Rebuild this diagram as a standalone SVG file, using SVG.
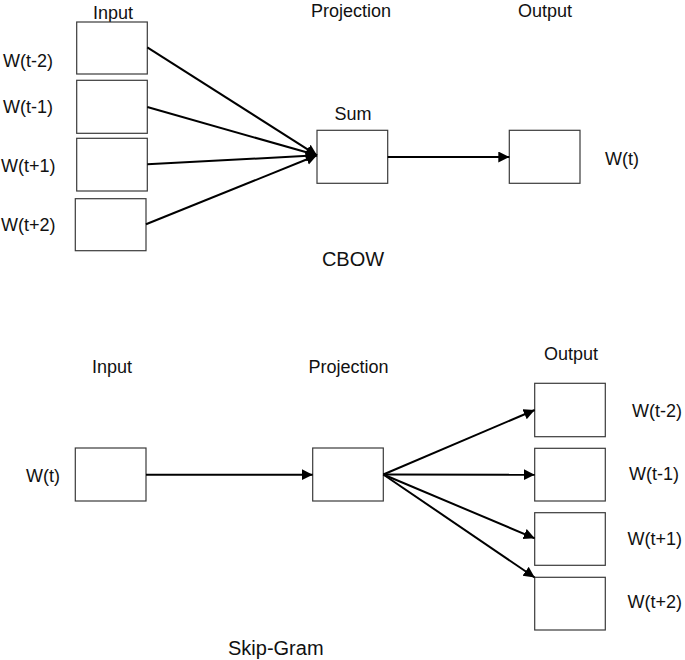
<svg xmlns="http://www.w3.org/2000/svg" width="685" height="660" viewBox="0 0 685 660">
<style>
.box{fill:#fff;stroke:#3a3a3a;stroke-width:1.2}
.lbl{font-family:"Liberation Sans",Arial,sans-serif;font-size:18px;fill:#111}
.ttl{font-family:"Liberation Sans",Arial,sans-serif;font-size:20px;fill:#111}
.mid{text-anchor:middle}
.conn line{stroke:#000;stroke-width:2;marker-end:url(#ah)}
</style>
<defs>
<marker id="ah" markerUnits="userSpaceOnUse" markerWidth="12" markerHeight="12" refX="11" refY="5.5" orient="auto">
<path d="M0,0 L11,5.5 L0,11 z" fill="#000"/>
</marker>
</defs>
<rect width="685" height="660" fill="#fff"/>

<!-- CBOW -->
<text class="lbl mid" x="113" y="19">Input</text>
<text class="lbl mid" x="351" y="17">Projection</text>
<text class="lbl mid" x="545" y="17">Output</text>
<text class="lbl mid" x="353" y="120">Sum</text>
<text class="ttl mid" x="353" y="266">CBOW</text>

<g id="cbow-in1"><rect class="box" x="76.7" y="22" width="70.6" height="52"/><text class="lbl" x="3" y="67">W(t-2)</text></g>
<g id="cbow-in2"><rect class="box" x="76.7" y="80.3" width="70.6" height="53"/><text class="lbl" x="3" y="113">W(t-1)</text></g>
<g id="cbow-in3"><rect class="box" x="76.7" y="138.3" width="70.6" height="52.7"/><text class="lbl" x="1" y="172">W(t+1)</text></g>
<g id="cbow-in4"><rect class="box" x="75.3" y="198.7" width="70.7" height="52"/><text class="lbl" x="1" y="231">W(t+2)</text></g>
<g id="cbow-sum"><rect class="box" x="317" y="130.3" width="70.7" height="53"/></g>
<g id="cbow-out"><rect class="box" x="509.3" y="130.3" width="70.7" height="53"/><text class="lbl" x="605" y="165">W(t)</text></g>

<!-- Skip-Gram -->
<text class="lbl mid" x="112" y="373">Input</text>
<text class="lbl mid" x="348.5" y="373">Projection</text>
<text class="lbl mid" x="571" y="360">Output</text>
<text class="ttl" x="228" y="655">Skip-Gram</text>

<g id="sg-in"><rect class="box" x="75.3" y="448" width="70.7" height="53"/><text class="lbl" x="26" y="482">W(t)</text></g>
<g id="sg-proj"><rect class="box" x="312.7" y="448" width="70.6" height="53"/></g>
<g id="sg-out1"><rect class="box" x="534.7" y="383.3" width="70.6" height="53.4"/><text class="lbl" x="632" y="417">W(t-2)</text></g>
<g id="sg-out2"><rect class="box" x="534.7" y="448.3" width="70.6" height="52.7"/><text class="lbl" x="629" y="480">W(t-1)</text></g>
<g id="sg-out3"><rect class="box" x="534.7" y="512.7" width="70.6" height="52.6"/><text class="lbl" x="627.5" y="545">W(t+1)</text></g>
<g id="sg-out4"><rect class="box" x="534.7" y="577.3" width="70.6" height="52.7"/><text class="lbl" x="627.5" y="608">W(t+2)</text></g>

<g id="connectors" class="conn">
<line x1="147.3" y1="47.3" x2="317" y2="155.3"/>
<line x1="147.3" y1="107" x2="317" y2="155.3"/>
<line x1="147.3" y1="164.3" x2="317" y2="155.3"/>
<line x1="146" y1="224.3" x2="317" y2="155.3"/>
<line x1="387.7" y1="157" x2="509.3" y2="157"/>
<line x1="146" y1="474.7" x2="312.7" y2="474.7"/>
<line x1="383.3" y1="474.5" x2="534.7" y2="410"/>
<line x1="383.3" y1="474.5" x2="534.7" y2="474.7"/>
<line x1="383.3" y1="474.5" x2="534.7" y2="538.3"/>
<line x1="383.3" y1="474.5" x2="534.7" y2="577.5"/>
</g>
</svg>
